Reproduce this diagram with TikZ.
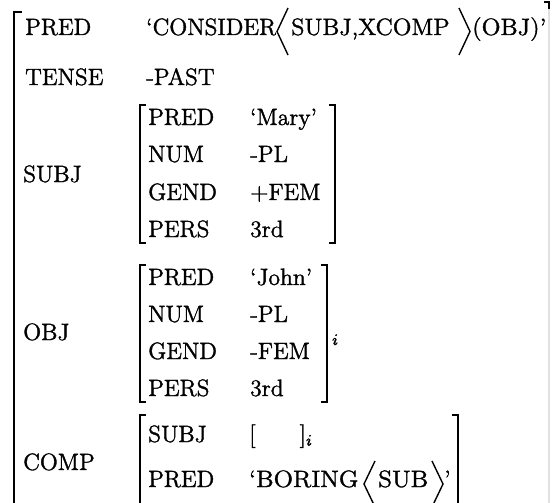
\documentclass[tikz,border=0pt]{standalone}
\usepackage{amsmath}
\newcommand{\heavy}{\special{pdf:literal direct 2 Tr 0.17 w}}
\newcommand{\tx}[1]{\scalebox{2}{\heavy#1}}
\newcommand{\twx}[2]{\scalebox{#1}[2]{\heavy#2}}
\tikzset{
  txt/.style={anchor=base west, inner sep=0pt, font=\fontsize{11.8}{14.2}\selectfont},
  idx/.style={anchor=base west, inner sep=0pt, font=\fontsize{8}{9.6}\selectfont},
  brk/.style={line width=1.8pt, line cap=butt},
  ang/.style={line width=1.4pt, line join=miter},
  faint/.style={line width=1.2pt, black!12}
}
\begin{document}
\begin{tikzpicture}[x=1pt,y=-1pt]
\useasboundingbox (0,0) rectangle (552,503);
% outer AVM
\node[txt] (pred)   at (25,35) {\tx{PRED}};
\node[txt] (predv)  at (146,35) {\tx{‘CONSIDER}};
\node[txt] (predw)  at (291,35) {\twx{2.07}{SUBJ,XCOMP}};
\node[txt] (predx)  at (472,35) {\twx{2.1}{(OBJ)’}};
\draw[ang] (288,8) -- (277,31.5) -- (288,55);
\draw[ang] (459,8) -- (470,31.5) -- (459,55);
\node[txt] (tense)  at (25,85) {\tx{TENSE}};
\node[txt] (tensev) at (146,85) {\tx{-PAST}};
\node[txt] (subj)   at (23,182) {\tx{SUBJ}};
\node[txt] (obj)    at (23,340) {\tx{OBJ}};
\node[txt] (comp)   at (23,470) {\tx{COMP}};
% SUBJ AVM
\node[txt] (s1a) at (148,125) {\tx{PRED}};  \node[txt] (s1v) at (250,125) {\tx{‘Mary’}};
\node[txt] (s2a) at (148,162) {\tx{NUM}};   \node[txt] (s2v) at (250,162) {\tx{-PL}};
\node[txt] (s3a) at (148,200) {\tx{GEND}};  \node[txt] (s3v) at (250,200) {\tx{$+$FEM}};
\node[txt] (s4a) at (148,237) {\tx{PERS}};  \node[txt] (s4v) at (250,237) {\tx{3rd}};
% OBJ AVM
\node[txt] (o1a) at (148,285) {\tx{PRED}};  \node[txt] (o1v) at (250,285) {\tx{‘John’}};
\node[txt] (o2a) at (148,322) {\tx{NUM}};   \node[txt] (o2v) at (250,322) {\tx{-PL}};
\node[txt] (o3a) at (148,359) {\tx{GEND}};  \node[txt] (o3v) at (250,359) {\tx{-FEM}};
\node[txt] (o4a) at (148,396) {\tx{PERS}};  \node[txt] (o4v) at (250,396) {\tx{3rd}};
\node[idx] (oi)  at (332,345) {\tx{$i$}};
% COMP AVM
\node[txt] (c1a) at (148,442) {\tx{SUBJ}};  \node[txt] (c1v) at (249,442) {\tx{[\hspace{22pt}]$_i$}};
\node[txt] (c2a) at (148,487) {\tx{PRED}};  \node[txt] (c2v) at (249,487) {\twx{2.15}{‘BORING}};
\node[txt] (c2w) at (378,487) {\twx{2.15}{SUB}};
\node[txt] (c2x) at (444,487) {\tx{’}};
\draw[ang] (375,461) -- (364,484) -- (375,507);
\draw[ang] (432,461) -- (443,484) -- (432,507);
% brackets
\draw[brk] (22,12) -- (14,12) -- (14,510);
\draw[brk] (544,2) -- (549,2) -- (549,9);
\draw[faint] (549,9) -- (549,510);
\draw[brk] (146,105) -- (140,105) -- (140,243) -- (146,243);
\draw[brk] (329,105) -- (335,105) -- (335,243) -- (329,243);
\draw[brk] (146,265) -- (140,265) -- (140,402) -- (146,402);
\draw[brk] (321,265) -- (327,265) -- (327,402) -- (321,402);
\draw[brk] (146,415) -- (140,415) -- (140,510);
\draw[brk] (452,415) -- (458,415) -- (458,510);
\end{tikzpicture}
\end{document}
